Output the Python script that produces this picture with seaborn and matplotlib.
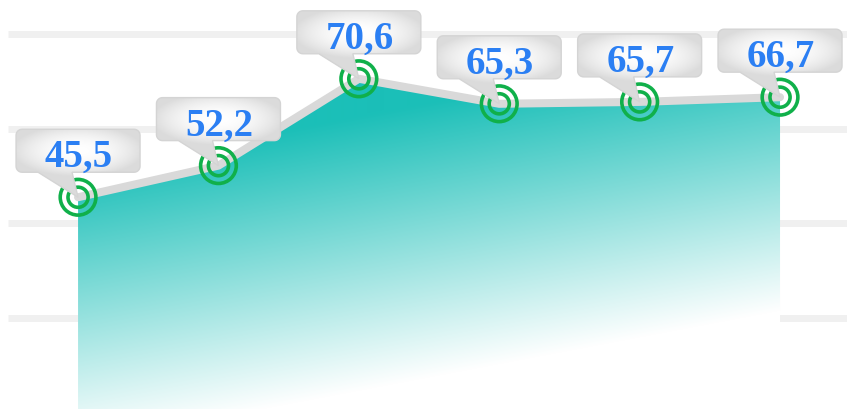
import numpy as np
import matplotlib
matplotlib.use('Agg')
import matplotlib.pyplot as plt
import seaborn as sns
from matplotlib.patches import Polygon

# Datos del grafico
values = [45.5, 52.2, 70.6, 65.3, 65.7, 66.7]
grid_levels = [20, 40, 60, 80]
labels = [f"{v:.1f}".replace('.', ',') for v in values]
xs = np.arange(len(values))

sns.set_style('white')
W, H = 847, 410
fig = plt.figure(figsize=(W / 100, H / 100), dpi=100)
ax = fig.add_axes([0, 0, 1, 1])
xlim = (-0.556, 5.477)
ylim = (0.64, 87.5)
ax.set_xlim(*xlim)
ax.set_ylim(*ylim)
ax.axis('off')

# Lineas de cuadricula
ax.hlines(grid_levels, -0.5, 5.6, color='#f0f0f0', lw=5, zorder=0)

# Area con degradado
verts = [(xs[0], 0)] + list(zip(xs, values)) + [(xs[-1], 0)]
area = Polygon(verts, closed=True, facecolor='none', edgecolor='none')
ax.add_patch(area)
X, Y = np.meshgrid(np.arange(W) + 0.5, np.arange(H) + 0.5)
t = np.clip((Y + 0.19 * X - 185) / 275, 0, 1)[..., None]
teal = np.array([27, 191, 184]) / 255
img = teal * (1 - t) + t
im = ax.imshow(img, extent=(*xlim, *ylim), origin='upper', aspect='auto',
               zorder=1, interpolation='bilinear')
im.set_clip_path(area)

# Linea gris
sns.lineplot(x=xs, y=values, color='#d9d9d9', lw=5.8, ax=ax, zorder=2)

# Marcadores (doble anillo verde)
green = '#10b04a'
ax.scatter(xs, values, s=660, facecolors='none', edgecolors=green, linewidths=2.6, zorder=3)
ax.scatter(xs, values, s=210, facecolors='none', edgecolors=green, linewidths=2.6, zorder=3)
ax.set_xlim(*xlim)
ax.set_ylim(*ylim)


def callout_path(cx, cy, w=124, h=43, gap=25, r=6):
    L, R = cx - w / 2, cx + w / 2
    B = cy + gap
    T = B + h
    pts = [(cx - 40, B), (cx, cy), (cx - 6, B)]

    def arc(ox, oy, a0, a1):
        return [(ox + r * np.cos(a), oy + r * np.sin(a)) for a in np.linspace(a0, a1, 8)]

    pts += arc(R - r, B + r, -np.pi / 2, 0)
    pts += arc(R - r, T - r, 0, np.pi / 2)
    pts += arc(L + r, T - r, np.pi / 2, np.pi)
    pts += arc(L + r, B + r, np.pi, 1.5 * np.pi)
    return np.array(pts), (L, R, B, T)


to_data = ax.transData.inverted()
for x, v, lab in zip(xs, values, labels):
    cx, cy = ax.transData.transform((x, v))
    pts, (L, R, B, T) = callout_path(cx, cy)
    dpts = to_data.transform(pts)
    box = Polygon(dpts, closed=True, facecolor='none', edgecolor='#d4d4d4', lw=1, zorder=5)
    ax.add_patch(box)
    # degradado del cuadro
    gx, gy = np.meshgrid(np.linspace(L, R, 80), np.linspace(T, cy, 60))
    u = (gx - (L + R) / 2) / ((R - L) / 2)
    w = (gy - (B + T) / 2) / ((T - B) / 2)
    g = np.clip(1 - 0.12 * (u ** 2 + 0.8 * w ** 2), 0.86, 1)
    bimg = np.dstack([g, g, g])
    (x0, y0), (x1, y1) = to_data.transform([(L, cy), (R, T)])
    bim = ax.imshow(bimg, extent=(x0, x1, y0, y1), origin='upper', aspect='auto',
                    zorder=4, interpolation='bilinear')
    bim.set_clip_path(box)
    tx, ty = to_data.transform((cx + 1, B + 6))
    ax.text(tx, ty, lab, ha='center', va='baseline', fontsize=28, fontweight='bold',
            family='Liberation Serif', color='#2b7ff3', zorder=6)

ax.set_xlim(*xlim)
ax.set_ylim(*ylim)
fig.savefig('out.png', dpi=100)
